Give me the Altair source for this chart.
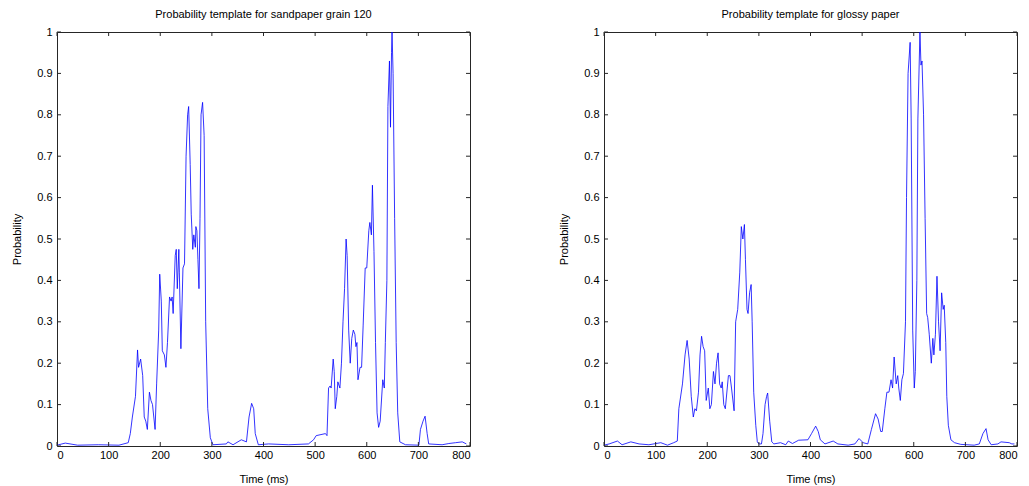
import altair as alt
import pandas as pd

# Sandpaper grain 120 template
sand_t = [0, 16, 40, 80, 120, 138, 142, 146, 152, 156, 158, 162, 166, 169, 172, 175, 179, 182, 185, 190,
          193, 197, 199, 202, 204, 208, 211, 214, 218, 221, 223, 225, 229, 231, 233, 236, 237, 240, 244, 247,
          250, 253, 255, 258, 260, 263, 265, 268, 269, 271, 273, 275, 277, 279, 282, 285, 288, 292, 297, 302,
          328, 331, 341, 357, 367, 372, 377, 381, 384, 390, 410, 449, 487, 497, 502, 520, 523, 526, 529, 531,
          535, 537, 539, 542, 544, 548, 551, 554, 557, 560, 562, 565, 568, 571, 574, 577, 579, 581, 583, 587,
          590, 593, 597, 600, 604, 606, 609, 611, 614, 617, 620, 623, 626, 631, 634, 636, 639, 641, 644, 646,
          648, 649, 651, 654, 657, 660, 664, 675, 701, 704, 709, 713, 717, 720, 746, 759, 772, 785, 793]
sand_p = [0.002, 0.007, 0.002, 0.003, 0.002, 0.008, 0.03, 0.07, 0.12, 0.232, 0.19, 0.21, 0.17, 0.07, 0.06, 0.04, 0.13, 0.11, 0.10, 0.04,
          0.15, 0.28, 0.415, 0.35, 0.23, 0.22, 0.19, 0.25, 0.36, 0.35, 0.36, 0.32, 0.46, 0.475, 0.38, 0.475, 0.42, 0.235, 0.43, 0.44,
          0.70, 0.80, 0.82, 0.68, 0.56, 0.475, 0.51, 0.48, 0.53, 0.52, 0.45, 0.38, 0.55, 0.80, 0.83, 0.75, 0.30, 0.09, 0.02, 0.003,
          0.005, 0.01, 0.003, 0.015, 0.01, 0.07, 0.103, 0.09, 0.03, 0.003, 0.005, 0.003, 0.005, 0.015, 0.025, 0.03, 0.025, 0.14, 0.145, 0.14,
          0.21, 0.18, 0.09, 0.12, 0.155, 0.14, 0.20, 0.30, 0.38, 0.50, 0.46, 0.28, 0.20, 0.26, 0.28, 0.27, 0.24, 0.25, 0.16, 0.19,
          0.19, 0.29, 0.43, 0.43, 0.52, 0.54, 0.51, 0.63, 0.47, 0.25, 0.08, 0.045, 0.06, 0.16, 0.14, 0.25, 0.40, 0.82, 0.93, 0.77,
          0.95, 1.0, 0.90, 0.55, 0.25, 0.08, 0.01, 0.003, 0.002, 0.04, 0.06, 0.072, 0.03, 0.005, 0.003, 0.006, 0.008, 0.01, 0.005]

# Glossy paper template
gloss_t = [0, 10, 26, 35, 52, 68, 87, 110, 123, 135, 142, 145, 152, 157, 161, 165, 169, 173, 176, 179,
           183, 186, 189, 192, 195, 198, 202, 205, 208, 212, 215, 218, 221, 224, 227, 229, 232, 235, 241, 244,
           247, 252, 255, 259, 263, 266, 269, 272, 274, 277, 279, 282, 285, 287, 290, 294, 297, 300, 305, 308,
           312, 315, 317, 321, 325, 329, 342, 352, 357, 365, 377, 395, 402, 410, 415, 419, 428, 444, 453, 473,
           486, 494, 502, 511, 518, 526, 531, 536, 539, 544, 548, 552, 556, 559, 562, 566, 569, 571, 574, 577,
           580, 584, 586, 589, 593, 595, 598, 601, 603, 606, 608, 612, 614, 616, 619, 622, 625, 627, 630, 634,
           637, 639, 642, 645, 648, 651, 654, 657, 659, 662, 664, 667, 672, 679, 691, 717, 727, 734, 740, 744,
           750, 763, 769, 785, 790, 795]
gloss_p = [0.002, 0.005, 0.012, 0.003, 0.01, 0.005, 0.003, 0.008, 0.002, 0.008, 0.012, 0.09, 0.15, 0.22, 0.255, 0.21, 0.12, 0.07, 0.09, 0.085,
           0.13, 0.22, 0.265, 0.24, 0.23, 0.11, 0.14, 0.09, 0.10, 0.18, 0.15, 0.20, 0.225, 0.15, 0.14, 0.155, 0.10, 0.09, 0.17, 0.17,
           0.14, 0.085, 0.30, 0.33, 0.42, 0.53, 0.50, 0.535, 0.45, 0.33, 0.32, 0.37, 0.39, 0.30, 0.13, 0.05, 0.01, 0.005, 0.005, 0.03,
           0.10, 0.12, 0.128, 0.06, 0.01, 0.005, 0.008, 0.003, 0.012, 0.006, 0.014, 0.015, 0.03, 0.048, 0.035, 0.015, 0.005, 0.012, 0.005, 0.002,
           0.005, 0.018, 0.008, 0.005, 0.04, 0.078, 0.065, 0.035, 0.035, 0.09, 0.13, 0.13, 0.16, 0.14, 0.215, 0.15, 0.17, 0.14, 0.11, 0.16,
           0.175, 0.30, 0.60, 0.90, 0.975, 0.79, 0.28, 0.14, 0.18, 0.40, 0.79, 1.0, 0.92, 0.93, 0.80, 0.55, 0.32, 0.31, 0.27, 0.20,
           0.26, 0.22, 0.27, 0.41, 0.30, 0.23, 0.37, 0.33, 0.34, 0.25, 0.12, 0.05, 0.015, 0.008, 0.004, 0.002, 0.005, 0.03, 0.042, 0.015,
           0.003, 0.005, 0.01, 0.008, 0.005, 0.005]

titles = ["Probability template for sandpaper grain 120", "Probability template for glossy paper"]
x_ticks = [0, 100, 200, 300, 400, 500, 600, 700, 800]
y_ticks = [0, 0.1, 0.2, 0.3, 0.4, 0.5, 0.6, 0.7, 0.8, 0.9, 1]

W, H = 413, 414
FONT = "Liberation Sans"
AX = "#262626"
TL = 4


def panel(t, p, title):
    df = pd.DataFrame({"t": t, "p": p})
    xs = alt.Scale(domain=[0, 800], nice=False)
    ys = alt.Scale(domain=[0, 1], nice=False)
    xax = alt.Axis(values=x_ticks, title="Time (ms)", format="d", labelPadding=3, titlePadding=13)
    yax = alt.Axis(values=y_ticks, title="Probability", format="~g", labelPadding=5, titlePadding=14)
    line = alt.Chart(df).mark_line(color="#0000ff", strokeWidth=0.8, clip=True).encode(
        x=alt.X("t:Q", scale=xs, axis=xax, title="Time (ms)"),
        y=alt.Y("p:Q", scale=ys, axis=yax, title="Probability"),
    )
    xdf = pd.DataFrame({"t": x_ticks})
    ydf = pd.DataFrame({"p": y_ticks})
    xb = alt.Chart(xdf).mark_rule(color=AX, strokeWidth=1).encode(
        x=alt.X("t:Q", scale=xs, axis=xax, title="Time (ms)"), y=alt.value(H), y2=alt.value(H - TL))
    xt = alt.Chart(xdf).mark_rule(color=AX, strokeWidth=1).encode(
        x=alt.X("t:Q", scale=xs, axis=xax, title="Time (ms)"), y=alt.value(0), y2=alt.value(TL))
    yl = alt.Chart(ydf).mark_rule(color=AX, strokeWidth=1).encode(
        y=alt.Y("p:Q", scale=ys, axis=yax, title="Probability"), x=alt.value(0), x2=alt.value(TL))
    yr = alt.Chart(ydf).mark_rule(color=AX, strokeWidth=1).encode(
        y=alt.Y("p:Q", scale=ys, axis=yax, title="Probability"), x=alt.value(W - TL), x2=alt.value(W))
    return alt.layer(line, xb, xt, yl, yr).properties(
        width=W, height=H,
        title=alt.TitleParams(title, fontSize=11, font=FONT, fontWeight="normal", color="black", offset=6),
    )


chart = alt.hconcat(
    panel(sand_t, sand_p, titles[0]),
    panel(gloss_t, gloss_p, titles[1]),
    spacing=87,
).properties(
    padding={"left": 3, "top": 0, "right": 0, "bottom": 0}
).configure_view(
    stroke=AX, strokeWidth=1
).configure_axis(
    labelFont=FONT, labelFontSize=11, labelColor="black",
    titleFont=FONT, titleFontSize=11, titleFontWeight="normal", titleColor="black",
    ticks=False, domain=False, grid=False,
)

chart.save("out.html", embed_options={"renderer": "svg", "actions": False})
